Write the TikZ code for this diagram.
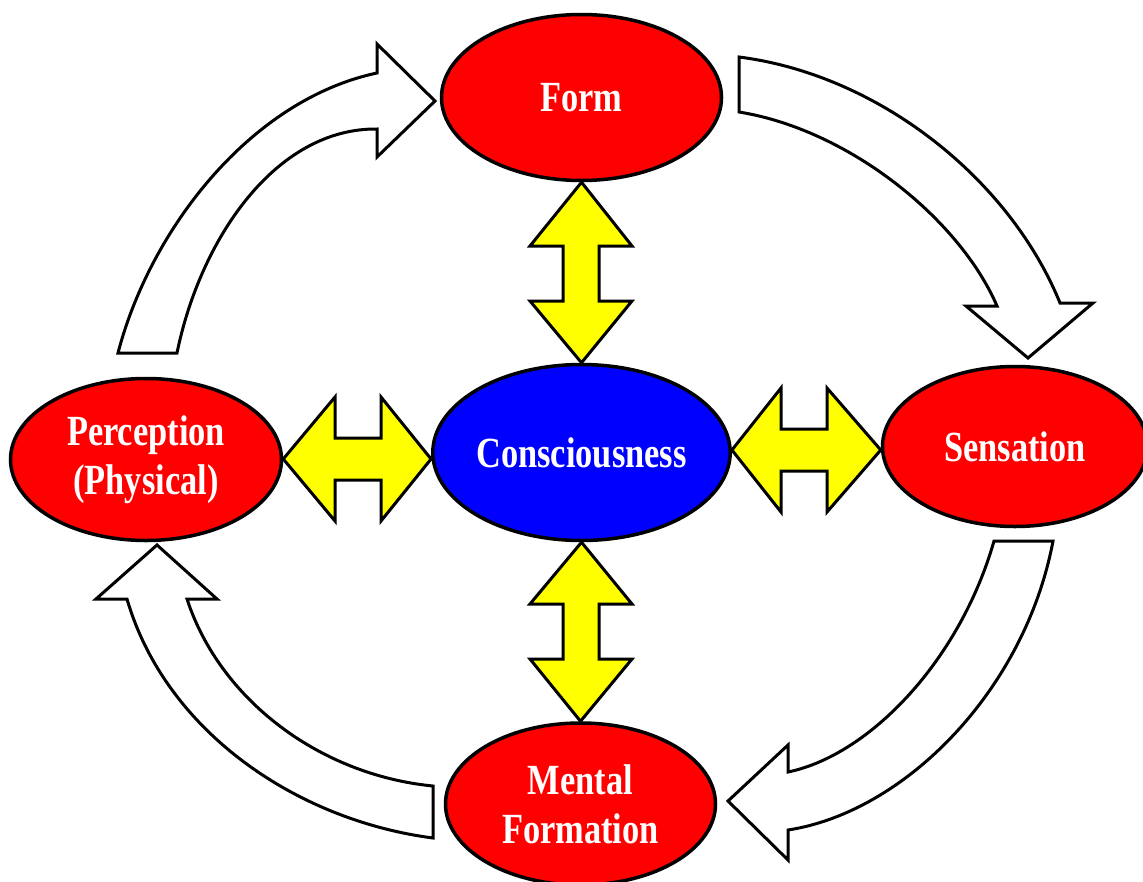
\documentclass[tikz,border=0pt]{standalone}
\usepackage{fontspec}
\newfontfamily\lblfont{Liberation Serif}[FakeStretch=0.8]
\usetikzlibrary{shapes.geometric,calc}
\definecolor{ered}{RGB}{255,0,0}
\definecolor{eblue}{RGB}{0,0,255}
\definecolor{ayellow}{RGB}{255,255,0}
\tikzset{
  ell/.style={ellipse, draw=black, line width=3.5pt, inner sep=0pt, text=white,
    font=\lblfont\bfseries\fontsize{43}{49}\selectfont, align=center},
  yarrow/.style={draw=black, fill=ayellow, line width=3pt, line join=miter},
  warrow/.style={draw=black, fill=white, line width=3pt, line join=miter},
}
\begin{document}
\begin{tikzpicture}[x=1pt,y=-1pt]
\fill[white] (0,0) rectangle (1143,881);
\useasboundingbox (0,0) rectangle (1143,881);

% curved white arrows
\draw[warrow] (118,353) .. controls (150,230) and (250,100) .. (377,73)
  -- (377,44) -- (435,101) -- (377,157) -- (377,129)
  .. controls (275,128) and (200,240) .. (177,353) -- cycle;
\draw[warrow] (739,57) .. controls (880,75) and (1010,180) .. (1060,303)
  -- (1093,303) -- (1028,358) -- (966,306) -- (997,306)
  .. controls (960,220) and (850,130) .. (739,112) -- cycle;
\draw[warrow] (994,541) -- (1053,541) .. controls (1025,690) and (905,812) .. (788,830)
  -- (788,860) -- (728,801) -- (788,745) -- (788,772)
  .. controls (870,755) and (960,660) .. (994,541) -- cycle;
\draw[warrow] (433,786) -- (433,838) .. controls (295,820) and (165,730) .. (127,599)
  -- (96,599) -- (157,545) -- (217,599) -- (187,599)
  .. controls (220,700) and (320,775) .. (433,786) -- cycle;

% ellipses
\node[ell, fill=ered, minimum width=280pt, minimum height=166pt] (form) at (581.5,97.5) {Form};
\node[ell, fill=eblue, minimum width=294pt, minimum height=176pt] (cons) at (581.5,452.5) {Consciousness};
\node[ell, fill=ered, minimum width=271pt, minimum height=162pt] (perc) at (146,459.5) {Perception\\(Physical)};
\node[ell, fill=ered, minimum width=265pt, minimum height=160pt] (sens) at (1015,446.5) {Sensation};
\node[ell, fill=ered, minimum width=270pt, minimum height=162pt] (ment) at (580.5,804) {Mental\\Formation};

\coordinate (ly) at (0,459);
\coordinate (ry) at (0,450);

% yellow double arrows
\draw[yarrow] (form.south) -- (632,246) -- (599,246) -- (599,301) -- (632,301)
  -- (cons.north) -- (530,301) -- (563,301) -- (563,246) -- (530,246) -- cycle;
\draw[yarrow] (cons.south) -- (632,604) -- (599,604) -- (599,659) -- (632,659)
  -- (ment.north) -- (530,659) -- (563,659) -- (563,604) -- (530,604) -- cycle;
\draw[yarrow] (perc.east |- ly) -- (335,397) -- (335,438) -- (381,438) -- (381,397)
  -- (cons.west |- ly) -- (381,521) -- (381,480) -- (335,480) -- (335,521) -- cycle;
\draw[yarrow] (cons.east |- ry) -- (781,388) -- (781,429) -- (827,429) -- (827,388)
  -- (sens.west |- ry) -- (827,512) -- (827,471) -- (781,471) -- (781,512) -- cycle;
\end{tikzpicture}
\end{document}
